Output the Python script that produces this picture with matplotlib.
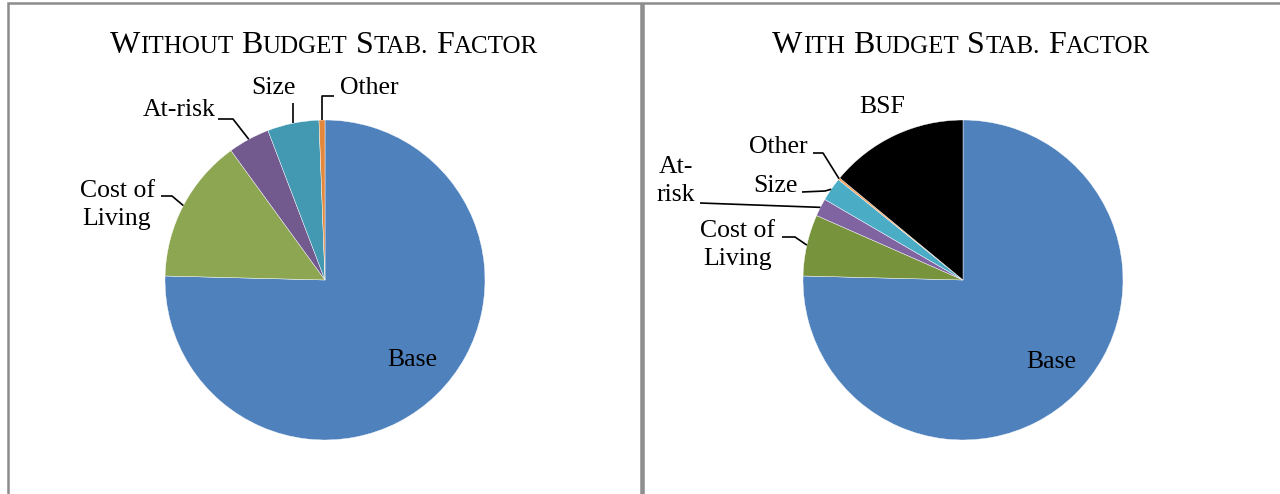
import math
import matplotlib
matplotlib.use("Agg")
import matplotlib.pyplot as plt
from matplotlib.patches import Rectangle
from matplotlib.offsetbox import TextArea, HPacker, AnnotationBbox

# ---------------------------------------------------------
# data (shares of the total)

left_labels = ["Base", "Cost of\nLiving", "At-risk", "Size", "Other"]
left_values = [75.4, 14.6, 4.2, 5.2, 0.6]
left_colors = ["#4F81BD", "#8CA652", "#72598E", "#4299B1", "#E3883C"]

right_labels = ["Base", "Cost of\nLiving", "At-\nrisk", "Size", "Other", "BSF"]
right_values = [75.4, 6.2, 1.8, 2.4, 0.2, 14.0]
right_colors = ["#4F81BD", "#77933C", "#8064A2", "#4BACC6", "#F79646", "#000000"]

left_title = ["Without", "Budget", "Stab.", "Factor"]
right_title = ["With", "Budget", "Stab.", "Factor"]

# ---------------------------------------------------------

W, H = 1280, 494
FONT = "Liberation Serif"
R = 160

def Y(y):
  # image row -> data y (y axis points up)
  return H - y

def wedge_point(values, i, center, r=R):
  total = sum(values)
  start = 90 - 360 * sum(values[:i]) / total
  mid = start - 180 * values[i] / total
  a = math.radians(mid)
  return center[0] + r * math.cos(a), center[1] + r * math.sin(a)

def small_caps(ax, words, xy):
  boxes = []
  for w in words:
    big = TextArea(w[0], textprops=dict(fontsize=23, family=FONT))
    small = TextArea(w[1:].upper(), textprops=dict(fontsize=18, family=FONT))
    boxes.append(HPacker(children=[big, small], sep=0, pad=0, align="baseline"))
  pack = HPacker(children=boxes, sep=6, pad=0, align="baseline")
  ab = AnnotationBbox(pack, xy, xycoords="data", frameon=False, box_alignment=(0.5, 0.5))
  ax.add_artist(ab)

def label(ax, text, xy, ha="center"):
  ax.text(xy[0], xy[1], text, ha=ha, va="center", fontsize=18.5, family=FONT,
          linespacing=1.32)

def leader(ax, pts):
  xs, ys = zip(*pts)
  ax.plot(xs, ys, color="black", lw=1.2, solid_capstyle="butt")

# ---------------------------------------------------------

fig = plt.figure(figsize=(W / 100, H / 100), dpi=100)
ax = fig.add_axes([0, 0, 1, 1])

# panel frames
ax.add_patch(Rectangle((8, Y(600)), 633, 597, fill=False, ec="#8C8C8C", lw=1.8))
ax.add_patch(Rectangle((643, Y(600)), 700, 597, fill=False, ec="#8C8C8C", lw=1.8))

# left pie
cl = (325, Y(280))
ax.pie(left_values, colors=left_colors, startangle=90, counterclock=False,
       center=cl, radius=R, wedgeprops=dict(edgecolor="white", linewidth=0.3))
small_caps(ax, left_title, (324, Y(46)))
label(ax, "Base", (412, Y(360)))
label(ax, left_labels[1], (117, Y(205)))
leader(ax, [(161, Y(196)), (172, Y(196)), wedge_point(left_values, 1, cl)])
label(ax, left_labels[2], (179, Y(110)))
leader(ax, [(218, Y(119)), (233, Y(119)), wedge_point(left_values, 2, cl)])
label(ax, left_labels[3], (273, Y(88)))
p = wedge_point(left_values, 3, cl)
leader(ax, [(p[0], Y(103)), p])
label(ax, left_labels[4], (369, Y(88)))
p = wedge_point(left_values, 4, cl)
leader(ax, [(334, Y(96)), (p[0], Y(96)), p])

# right pie
cr = (963, Y(280))
ax.pie(right_values, colors=right_colors, startangle=90, counterclock=False,
       center=cr, radius=R, wedgeprops=dict(edgecolor="white", linewidth=0.3))
small_caps(ax, right_title, (961, Y(46)))
label(ax, "Base", (1051, Y(362)))
label(ax, right_labels[5], (882, Y(107)))
label(ax, right_labels[1], (738, Y(245)))
leader(ax, [(782, Y(237)), (795, Y(237)), wedge_point(right_values, 1, cr)])
label(ax, right_labels[2], (676, Y(181)))
leader(ax, [(700, Y(203)), wedge_point(right_values, 2, cr)])
label(ax, right_labels[3], (775, Y(186)))
leader(ax, [(802, Y(192)), (825, Y(191)), wedge_point(right_values, 3, cr)])
label(ax, right_labels[4], (778, Y(147)))
leader(ax, [(813, Y(153)), (823, Y(153)), wedge_point(right_values, 4, cr)])

ax.set_xlim(0, W)
ax.set_ylim(0, H)
ax.set_aspect("auto")
ax.axis("off")

fig.savefig("out.png", dpi=100)
